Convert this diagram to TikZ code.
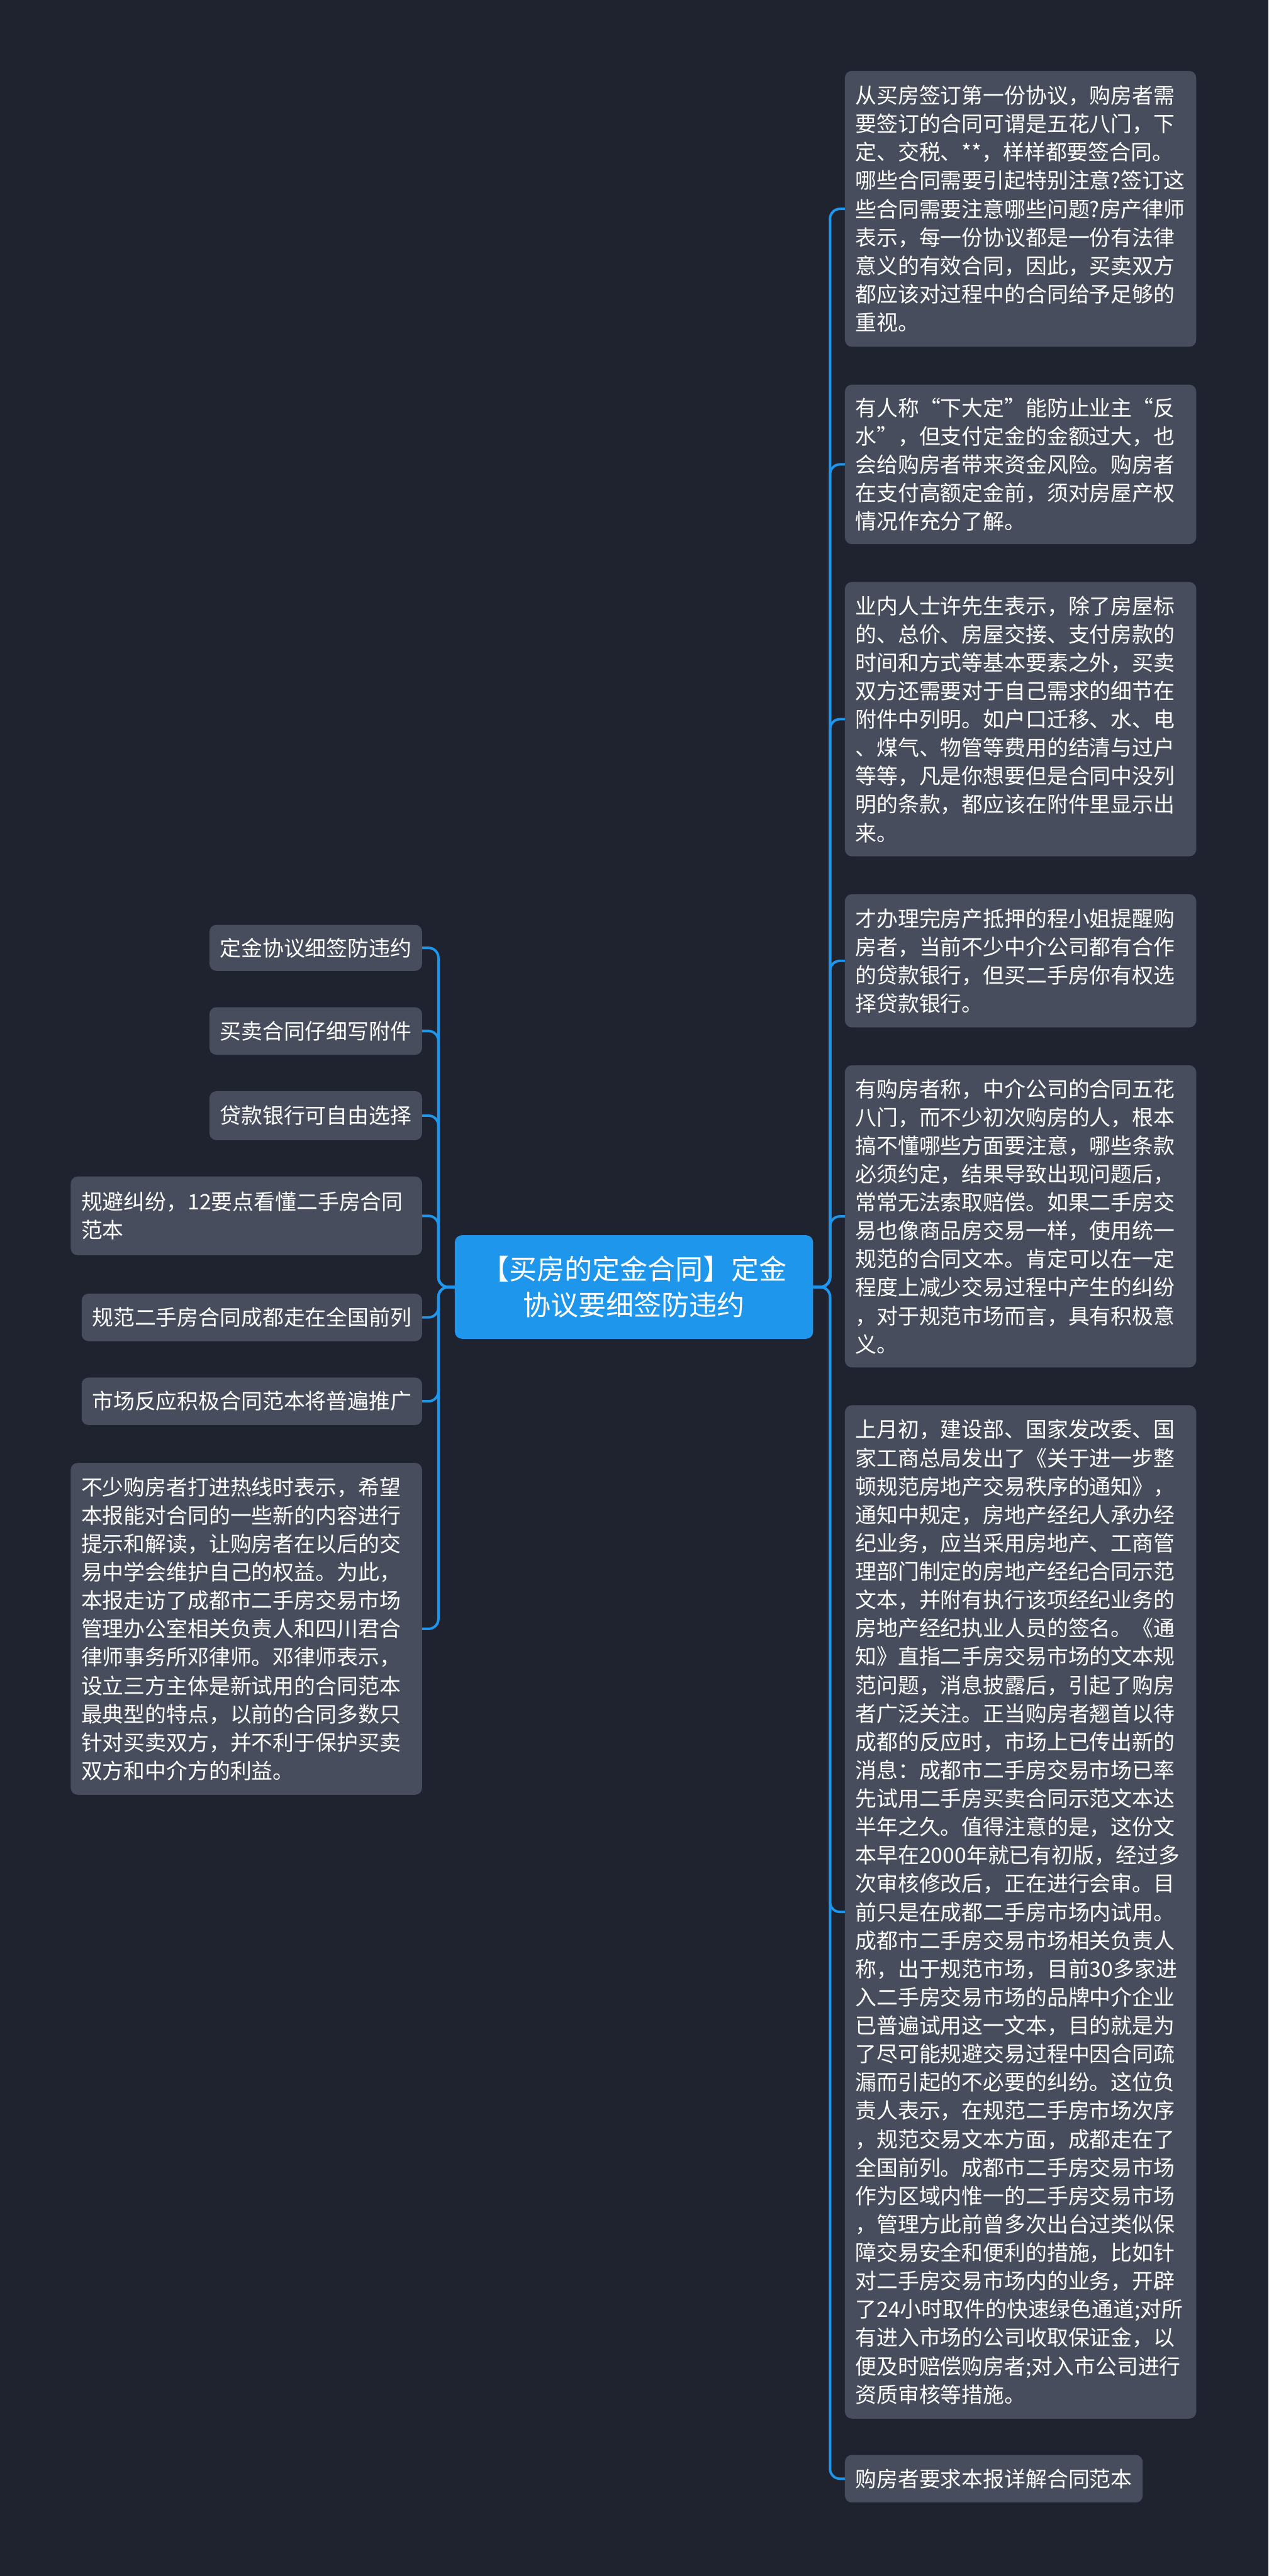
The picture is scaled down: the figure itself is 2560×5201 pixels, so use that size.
\documentclass[tikz,border=0pt]{standalone}
\usepackage{fontspec}
\setmainfont{Noto Sans CJK SC}
\usetikzlibrary{positioning}
\definecolor{bgdark}{RGB}{31,35,48}
\definecolor{leafgray}{RGB}{71,77,93}
\definecolor{topicblue}{RGB}{30,150,235}

\begin{document}
\begin{tikzpicture}[x=1pt,y=-1pt,
  leaf/.style={fill=leafgray,text=white,rounded corners=14pt,inner xsep=21pt,inner ysep=8pt,
    font=\fontsize{43pt}{57.3pt}\selectfont},
  para/.style={leaf,text width=667pt,align=left},
  topic/.style={fill=topicblue,text=white,rounded corners=14pt,align=center,
    minimum width=723pt,minimum height=209pt,font=\fontsize{56pt}{72pt}\selectfont},
  link/.style={draw=topicblue,line width=5pt,rounded corners=20pt}]

  \path[use as bounding box,fill=bgdark] (0,0) rectangle (2560,5201);

  \node[topic] (root) at (1279.5,2598.5) {【买房的定金合同】定金\\协议要细签防违约};

  % right side
  \node[para,anchor=north west,minimum height=557pt] (r1) at (1705,143) {从买房签订第一份协议，购房者需\\
    要签订的合同可谓是五花八门，下\\
    定、交税、**，样样都要签合同。\\
    哪些合同需要引起特别注意?签订这\\
    些合同需要注意哪些问题?房产律师\\
    表示，每一份协议都是一份有法律\\
    意义的有效合同，因此，买卖双方\\
    都应该对过程中的合同给予足够的\\
    重视。};
  \node[para,below=76pt of r1.south west,anchor=north west,minimum height=322pt] (r2) {有人称“下大定”能防止业主“反\\
    水”，但支付定金的金额过大，也\\
    会给购房者带来资金风险。购房者\\
    在支付高额定金前，须对房屋产权\\
    情况作充分了解。};
  \node[para,below=76pt of r2.south west,anchor=north west,minimum height=554pt] (r3) {业内人士许先生表示，除了房屋标\\
    的、总价、房屋交接、支付房款的\\
    时间和方式等基本要素之外，买卖\\
    双方还需要对于自己需求的细节在\\
    附件中列明。如户口迁移、水、电\\
    、煤气、物管等费用的结清与过户\\
    等等，凡是你想要但是合同中没列\\
    明的条款，都应该在附件里显示出\\
    来。};
  \node[para,below=76pt of r3.south west,anchor=north west,minimum height=269pt] (r4) {才办理完房产抵押的程小姐提醒购\\
    房者，当前不少中介公司都有合作\\
    的贷款银行，但买二手房你有权选\\
    择贷款银行。};
  \node[para,below=76pt of r4.south west,anchor=north west,minimum height=610pt] (r5) {有购房者称，中介公司的合同五花\\
    八门，而不少初次购房的人，根本\\
    搞不懂哪些方面要注意，哪些条款\\
    必须约定，结果导致出现问题后，\\
    常常无法索取赔偿。如果二手房交\\
    易也像商品房交易一样，使用统一\\
    规范的合同文本。肯定可以在一定\\
    程度上减少交易过程中产生的纠纷\\
    ，对于规范市场而言，具有积极意\\
    义。};
  \node[para,below=76pt of r5.south west,anchor=north west,minimum height=2046pt] (r6) {上月初，建设部、国家发改委、国\\
    家工商总局发出了《关于进一步整\\
    顿规范房地产交易秩序的通知》，\\
    通知中规定，房地产经纪人承办经\\
    纪业务，应当采用房地产、工商管\\
    理部门制定的房地产经纪合同示范\\
    文本，并附有执行该项经纪业务的\\
    房地产经纪执业人员的签名。《通\\
    知》直指二手房交易市场的文本规\\
    范问题，消息披露后，引起了购房\\
    者广泛关注。正当购房者翘首以待\\
    成都的反应时，市场上已传出新的\\
    消息：成都市二手房交易市场已率\\
    先试用二手房买卖合同示范文本达\\
    半年之久。值得注意的是，这份文\\
    本早在2000年就已有初版，经过多\\
    次审核修改后，正在进行会审。目\\
    前只是在成都二手房市场内试用。\\
    成都市二手房交易市场相关负责人\\
    称，出于规范市场，目前30多家进\\
    入二手房交易市场的品牌中介企业\\
    已普遍试用这一文本，目的就是为\\
    了尽可能规避交易过程中因合同疏\\
    漏而引起的不必要的纠纷。这位负\\
    责人表示，在规范二手房市场次序\\
    ，规范交易文本方面，成都走在了\\
    全国前列。成都市二手房交易市场\\
    作为区域内惟一的二手房交易市场\\
    ，管理方此前曾多次出台过类似保\\
    障交易安全和便利的措施，比如针\\
    对二手房交易市场内的业务，开辟\\
    了24小时取件的快速绿色通道;对所\\
    有进入市场的公司收取保证金，以\\
    便及时赔偿购房者;对入市公司进行\\
    资质审核等措施。};
  \node[leaf,below=73pt of r6.south west,anchor=north west,minimum height=96pt] (r7) {购房者要求本报详解合同范本};

  % left side
  \node[leaf,anchor=north east,minimum height=93pt] (l1) at (852,1867) {定金协议细签防违约};
  \node[leaf,below=73pt of l1.south east,anchor=north east,minimum height=96pt] (l2) {买卖合同仔细写附件};
  \node[leaf,below=73pt of l2.south east,anchor=north east,minimum height=99pt] (l3) {贷款银行可自由选择};
  \node[para,below=73pt of l3.south east,anchor=north east,minimum height=159pt] (l4) {规避纠纷，12要点看懂二手房合同\\
    范本};
  \node[leaf,below=77pt of l4.south east,anchor=north east,minimum height=96pt] (l5) {规范二手房合同成都走在全国前列};
  \node[leaf,below=73pt of l5.south east,anchor=north east,minimum height=96pt] (l6) {市场反应积极合同范本将普遍推广};
  \node[para,below=76pt of l6.south east,anchor=north east,minimum height=670pt] (l7) {不少购房者打进热线时表示，希望\\
    本报能对合同的一些新的内容进行\\
    提示和解读，让购房者在以后的交\\
    易中学会维护自己的权益。为此，\\
    本报走访了成都市二手房交易市场\\
    管理办公室相关负责人和四川君合\\
    律师事务所邓律师。邓律师表示，\\
    设立三方主体是新试用的合同范本\\
    最典型的特点，以前的合同多数只\\
    针对买卖双方，并不利于保护买卖\\
    双方和中介方的利益。};

  \foreach \n in {r1,r2,r3,r4,r5,r6,r7}
    \draw[link] (root.east) -- ++(34,0) |- (\n.west);
  \foreach \n in {l1,l2,l3,l4,l5,l6,l7}
    \draw[link] (root.west) -- ++(-33,0) |- (\n.east);
\end{tikzpicture}
\end{document}
